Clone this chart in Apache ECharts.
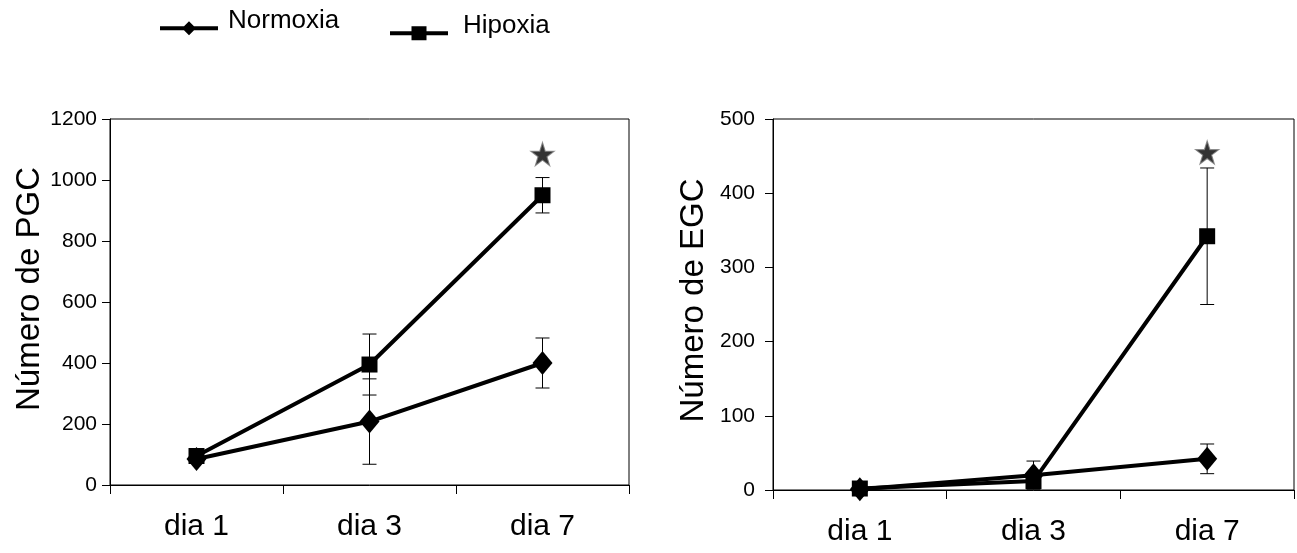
<!DOCTYPE html>
<html>
<head>
<meta charset="utf-8">
<script src="https://cdn.jsdelivr.net/npm/echarts@6/dist/echarts.min.js"></script>
<style>
html,body{margin:0;padding:0;background:#fff;}
#chart{width:1297px;height:553px;}
</style>
</head>
<body>
<div id="chart"></div>
<script>
// ---- data ----
const categories = ['dia 1', 'dia 3', 'dia 7'];
const pgcTicks = [0, 200, 400, 600, 800, 1000, 1200];
const egcTicks = [0, 100, 200, 300, 400, 500];

const pgcNormoxia    = [85, 208, 400];
const pgcNormoxiaErr = [10, 140, 82];
const pgcHipoxia     = [95, 395, 950];
const pgcHipoxiaErr  = [10, 100, 58];
const pgcStar        = [null, null, 1085];

const egcNormoxia    = [1, 20, 42];
const egcNormoxiaErr = [1, 19, 20];
const egcHipoxia     = [2, 12, 342];
const egcHipoxiaErr  = [1, 5, 92];
const egcStar        = [null, null, 455];

// ---- helpers ----
const FONT = '"Liberation Sans", Arial, sans-serif';
const STAR = 'path://M50,0 L61.8,35.4 L99,35.4 L69,57.3 L80.4,92.7 L50,70.8 L19.6,92.7 L31,57.3 L1,35.4 L38.2,35.4 Z';
// legend icons drawn in a 58 x 30 box: line + marker sit below the text middle
const ICON_NORMOXIA = 'path://M0,0 L0,0 Z M58,30 L58,30 Z M0,20.3 L58,20.3 L58,24.3 L0,24.3 Z M29,15.3 L36,22.3 L29,29.3 L22,22.3 Z';
const ICON_HIPOXIA  = 'path://M0,0 L0,0 Z M58,30 L58,30 Z M0,20.3 L58,20.3 L58,24.3 L0,24.3 Z M21.5,15.3 L36.5,15.3 L36.5,29.3 L21.5,29.3 Z';

function errData(v, e) {
  return categories.map((c, i) => [i, v[i] - e[i], v[i] + e[i]]);
}
function errSeries(v, e, idx) {
  return {
    type: 'custom', xAxisIndex: idx, yAxisIndex: idx, z: 1, silent: true,
    data: errData(v, e), encode: { x: 0, y: [1, 2] },
    renderItem: function (params, api) {
      const x = api.value(0);
      const lo = api.coord([x, api.value(1)]);
      const hi = api.coord([x, api.value(2)]);
      const w = 7;
      const st = { stroke: '#000', lineWidth: 1 };
      return { type: 'group', children: [
        { type: 'line', shape: { x1: lo[0], y1: lo[1], x2: hi[0], y2: hi[1] }, style: st },
        { type: 'line', shape: { x1: lo[0] - w, y1: lo[1], x2: lo[0] + w, y2: lo[1] }, style: st },
        { type: 'line', shape: { x1: hi[0] - w, y1: hi[1], x2: hi[0] + w, y2: hi[1] }, style: st }
      ]};
    }
  };
}
function lineSeries(name, data, idx, symbol, size) {
  return {
    name: name, type: 'line', xAxisIndex: idx, yAxisIndex: idx, z: 3,
    data: data, symbol: symbol, symbolSize: size, showSymbol: true,
    lineStyle: { color: '#000', width: 4 },
    itemStyle: { color: '#000', borderWidth: 0 },
    animation: false
  };
}
function starSeries(data, idx) {
  return {
    type: 'scatter', xAxisIndex: idx, yAxisIndex: idx, z: 4, silent: true,
    data: data, symbol: STAR, symbolSize: 23,
    itemStyle: { color: '#000', borderColor: '#7a7a7a', borderWidth: 1.2 }
  };
}
function xAxisCfg(idx) {
  return {
    type: 'category', gridIndex: idx, data: categories, boundaryGap: true,
    axisLine: { lineStyle: { color: '#000', width: 1 } },
    axisTick: { show: true, alignWithLabel: false, length: 9, lineStyle: { color: '#000' } },
    axisLabel: { color: '#000', fontFamily: FONT, fontSize: 30, margin: 27 },
    splitLine: { show: false }
  };
}
function yAxisCfg(idx, ticks, name, gap, pad, margin) {
  return {
    type: 'value', gridIndex: idx, min: ticks[0], max: ticks[ticks.length - 1],
    interval: ticks[1] - ticks[0],
    name: name, nameLocation: 'middle', nameRotate: 90, nameGap: gap,
    nameTextStyle: { color: '#000', fontFamily: FONT, fontSize: 33, padding: pad },
    axisLine: { show: true, lineStyle: { color: '#000', width: 1 } },
    axisTick: { show: true, length: 8, lineStyle: { color: '#000' } },
    axisLabel: { color: '#000', fontFamily: FONT, fontSize: 21, margin: margin,
      formatter: function (v) { return String(v); } },
    splitLine: { show: false }
  };
}

const chart = echarts.init(document.getElementById('chart'), null, { renderer: 'canvas' });
chart.setOption({
  animation: false,
  backgroundColor: '#fff',
  legend: [
    {
      data: [{ name: 'Normoxia', icon: ICON_NORMOXIA }], left: 160, top: 6, padding: 0,
      itemWidth: 58, itemHeight: 30, symbolKeepAspect: false, selectedMode: false,
      textStyle: { color: '#000', fontFamily: FONT, fontSize: 26, padding: [0, 0, 0, 5] }
    },
    {
      data: [{ name: 'Hipoxia', icon: ICON_HIPOXIA }], left: 390, top: 11, padding: 0,
      itemWidth: 58, itemHeight: 30, symbolKeepAspect: false, selectedMode: false,
      textStyle: { color: '#000', fontFamily: FONT, fontSize: 26, padding: [0, 0, 0, 10] }
    }
  ],
  grid: [
    { left: 110, top: 119, width: 519, height: 366, show: true, borderColor: '#000', borderWidth: 1, backgroundColor: 'transparent' },
    { left: 773, top: 119, width: 521, height: 371, show: true, borderColor: '#000', borderWidth: 1, backgroundColor: 'transparent' }
  ],
  xAxis: [xAxisCfg(0), xAxisCfg(1)],
  yAxis: [
    yAxisCfg(0, pgcTicks, 'Número de PGC', 62, [0, 0, 0, 26], 13),
    yAxisCfg(1, egcTicks, 'Número de EGC', 63, [0, 0, 0, 8], 18)
  ],
  series: [
    errSeries(pgcNormoxia, pgcNormoxiaErr, 0),
    errSeries(pgcHipoxia, pgcHipoxiaErr, 0),
    lineSeries('Normoxia', pgcNormoxia, 0, 'diamond', [20, 24]),
    lineSeries('Hipoxia', pgcHipoxia, 0, 'rect', 16),
    starSeries(pgcStar, 0),
    errSeries(egcNormoxia, egcNormoxiaErr, 1),
    errSeries(egcHipoxia, egcHipoxiaErr, 1),
    lineSeries('Normoxia', egcNormoxia, 1, 'diamond', [20, 24]),
    lineSeries('Hipoxia', egcHipoxia, 1, 'rect', 16),
    starSeries(egcStar, 1)
  ]
});
</script>
</body>
</html>
